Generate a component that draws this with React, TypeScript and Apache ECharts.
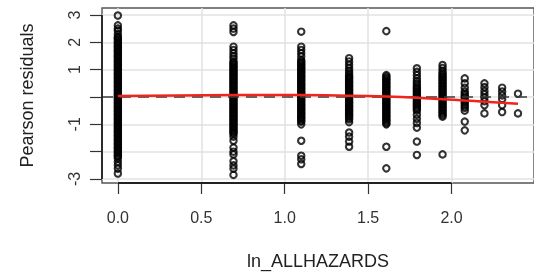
import React, { useEffect, useRef } from "react";
import * as echarts from "echarts";

// x positions of the columns (ln of the hazard count)
const hazardX = [0, 0.693, 1.099, 1.386, 1.609, 1.792, 1.946, 2.079, 2.197, 2.303, 2.398];

// Pearson residuals in each column
const res0 = [2.98, 2.62, 2.5, 2.42, 2.3,
  2.2, 2.16, 2.11, 2.05, 2.0, 1.96, 1.9, 1.85, 1.81, 1.75, 1.7, 1.66, 1.61, 1.55, 1.5, 1.46, 1.41, 1.35, 1.3, 1.26,
  1.2, 1.15, 1.11, 1.05, 1.0, 0.96, 0.9, 0.85, 0.81, 0.75, 0.7, 0.66, 0.6, 0.55, 0.51, 0.45, 0.4, 0.36, 0.3, 0.25,
  0.21, 0.15, 0.1, 0.06, 0.0, -0.05, -0.09, -0.15, -0.2, -0.24, -0.3, -0.35, -0.39, -0.45, -0.5, -0.54, -0.6, -0.65,
  -0.69, -0.75, -0.8, -0.84, -0.9, -0.95, -0.99, -1.05, -1.1, -1.14, -1.2, -1.25, -1.29, -1.35, -1.4, -1.44, -1.5,
  -1.55, -1.59, -1.65, -1.7, -1.74, -1.8, -1.85, -1.89, -1.95, -2.0, -2.04, -2.1, -2.15, -2.19, -2.25,
  -2.38, -2.5, -2.62, -2.8];
const res1 = [2.62, 2.5, 2.38, 1.84, 1.72, 1.6, 1.5, 1.41,
  1.3, 1.25, 1.2, 1.14, 1.1, 1.05, 0.99, 0.95, 0.9, 0.84, 0.8, 0.75, 0.69, 0.65, 0.6, 0.54, 0.5, 0.45, 0.39, 0.35,
  0.3, 0.24, 0.2, 0.15, 0.09, 0.05, 0.0, -0.06, -0.1, -0.15, -0.21, -0.25, -0.3, -0.36, -0.4, -0.45, -0.51, -0.55,
  -0.6, -0.66, -0.7, -0.75, -0.81, -0.85, -0.9, -0.96, -1.0, -1.05, -1.11, -1.15, -1.2, -1.26, -1.3, -1.35,
  -1.45, -1.6, -1.85, -2.0, -2.1, -2.35, -2.5, -2.62, -2.85];
const res2 = [2.39, 1.84, 1.72, 1.6, 1.48,
  1.35, 1.3, 1.24, 1.2, 1.15, 1.09, 1.05, 1.0, 0.94, 0.9, 0.85, 0.79, 0.75, 0.7, 0.64, 0.6, 0.55, 0.49, 0.45, 0.4,
  0.34, 0.3, 0.25, 0.19, 0.15, 0.1, 0.04, 0.0, -0.05, -0.11, -0.15, -0.2, -0.26, -0.3, -0.35, -0.41, -0.45, -0.5,
  -0.56, -0.6, -0.65, -0.71, -0.75, -0.8, -0.86, -0.9,
  -1.0, -1.6, -2.15, -2.28, -2.45];
const res3 = [1.42, 1.3, 1.18, 1.06, 0.96, 0.88,
  0.8, 0.74, 0.7, 0.65, 0.59, 0.55, 0.5, 0.44, 0.4, 0.35, 0.29, 0.25, 0.2, 0.14, 0.1, 0.05, -0.01, -0.05, -0.1,
  -0.16, -0.2, -0.25, -0.31, -0.35, -0.4, -0.46, -0.5, -0.55, -0.61, -0.65, -0.7, -0.76, -0.82,
  -0.92, -1.3, -1.45, -1.63, -1.82];
const res4 = [2.41,
  0.8, 0.75, 0.69, 0.65, 0.6, 0.54, 0.5, 0.45, 0.39, 0.35, 0.3, 0.24, 0.2, 0.15, 0.09, 0.05, 0.0, -0.06, -0.1,
  -0.15, -0.21, -0.25, -0.3, -0.36, -0.4, -0.45, -0.51, -0.55, -0.6, -0.66, -0.7, -0.75, -0.81, -0.85, -0.9, -0.96, -1.0,
  -1.82, -2.61];
const res5 = [1.05, 0.92, 0.8, 0.68, 0.58, 0.5, 0.42,
  0.35, 0.3, 0.24, 0.18, 0.12, 0.07, 0.01, -0.05, -0.1, -0.16, -0.22, -0.27, -0.33, -0.38, -0.44, -0.5,
  -0.65, -0.8, -0.95, -1.12, -1.63, -2.12];
const res6 = [1.17, 1.06, 0.96,
  0.88, 0.82, 0.76, 0.71, 0.65, 0.6, 0.54, 0.49, 0.43, 0.38, 0.32, 0.27, 0.21, 0.16, 0.1, 0.05, -0.01, -0.06,
  -0.12, -0.17, -0.23, -0.28, -0.34, -0.39, -0.45, -0.5, -0.56, -0.61, -0.67, -0.72,
  -2.1];
const res7 = [0.68, 0.5, 0.34, 0.2, 0.12, 0.05, -0.02, -0.1, -0.18, -0.25, -0.33, -0.4, -0.5, -0.9, -1.22];
const res8 = [0.5, 0.36, 0.22, 0.1, -0.02, -0.15, -0.3, -0.6];
const res9 = [0.34, 0.2, 0.06, -0.08, -0.3, -0.55];
const res10 = [0.12, -0.6];

const residualColumns = [res0, res1, res2, res3, res4, res5, res6, res7, res8, res9, res10];

// smoothed (loess-like) trend at the column positions
const smoothY = [0.04, 0.07, 0.07, 0.05, 0.02, -0.03, -0.08, -0.13, -0.17, -0.21, -0.25];

const xTicks = [0, 0.5, 1, 1.5, 2];
const yTicks = [-3, -2, -1, 0, 1, 2, 3];
const yLabels = [-3, -1, 1, 2, 3];

const X_MIN = -0.095;
const X_MAX = 2.494;
const Y_MIN = -3.146;
const Y_MAX = 3.256;

const FONT = "'Liberation Sans', Arial, Helvetica, sans-serif";

export default function App() {
  const ref = useRef<HTMLDivElement>(null);
  useEffect(() => {
    if (!ref.current) return;
    const chart = echarts.init(ref.current, undefined, { renderer: "svg" });
    const points: number[][] = [];
    residualColumns.forEach((col, i) => {
      col.forEach((v) => points.push([hazardX[i], v]));
    });
    const smooth = hazardX.map((x, i) => [x, smoothY[i]]);
    chart.setOption({
      animation: false,
      grid: {
        left: 102,
        top: 8,
        bottom: 96,
        right: -6,
        show: true,
        borderColor: "#555",
        borderWidth: 1.4,
        backgroundColor: "transparent",
      },
      xAxis: {
        type: "value",
        min: X_MIN,
        max: X_MAX,
        name: "ln_ALLHAZARDS",
        nameLocation: "middle",
        nameGap: 69,
        nameTextStyle: { fontFamily: FONT, fontSize: 18, color: "#222" },
        axisLine: { show: false, onZero: false },
        axisTick: { show: true, length: 11, customValues: xTicks, lineStyle: { color: "#333", width: 1.2 } },
        axisLabel: {
          customValues: xTicks,
          margin: 26,
          fontFamily: FONT,
          fontSize: 16,
          color: "#333",
          formatter: (v: number) => v.toFixed(1),
        },
        splitLine: { show: true, lineStyle: { color: "#e2e2e2", width: 1.5 } },
      },
      yAxis: {
        type: "value",
        min: Y_MIN,
        max: Y_MAX,
        name: "Pearson residuals",
        nameLocation: "middle",
        nameGap: 66,
        nameTextStyle: { fontFamily: FONT, fontSize: 18, color: "#222" },
        axisLine: { show: false, onZero: false },
        axisTick: { show: true, length: 12, customValues: yTicks, lineStyle: { color: "#333", width: 1.2 } },
        axisLabel: {
          customValues: yLabels,
          rotate: 90,
          margin: 20,
          fontFamily: FONT,
          fontSize: 16,
          color: "#333",
          formatter: (v: number) => String(v),
        },
        splitLine: { show: true, lineStyle: { color: "#e2e2e2", width: 1.5 } },
      },
      series: [
        {
          type: "scatter",
          data: points,
          symbol: "circle",
          symbolSize: 6.4,
          itemStyle: { color: "rgba(0,0,0,0)", borderColor: "#000", borderWidth: 2.1 },
          z: 2,
          markLine: {
            silent: true,
            symbol: "none",
            label: { show: false },
            lineStyle: { color: "#3a3a3a", type: [11, 7], width: 1.5 },
            data: [{ yAxis: 0 }],
          },
        },
        {
          // R-style axis lines spanning first to last tick
          type: "line",
          data: [],
          silent: true,
          markLine: {
            silent: true,
            symbol: "none",
            label: { show: false },
            lineStyle: { color: "#222", type: "solid", width: 1.8 },
            data: [
              [{ coord: [xTicks[0], Y_MIN] }, { coord: [xTicks[xTicks.length - 1], Y_MIN] }],
              [{ coord: [X_MIN, yTicks[0]] }, { coord: [X_MIN, yTicks[yTicks.length - 1]] }],
            ],
          },
          z: 4,
        },
        {
          type: "line",
          data: smooth,
          smooth: 0.2,
          showSymbol: false,
          symbol: "none",
          lineStyle: { color: "#f0241a", width: 2.5 },
          z: 5,
        },
      ],
    });
    return () => chart.dispose();
  }, []);
  return <div ref={ref} style={{ position: "fixed", left: 0, top: 0, width: 534, height: 279 }} />;
}
